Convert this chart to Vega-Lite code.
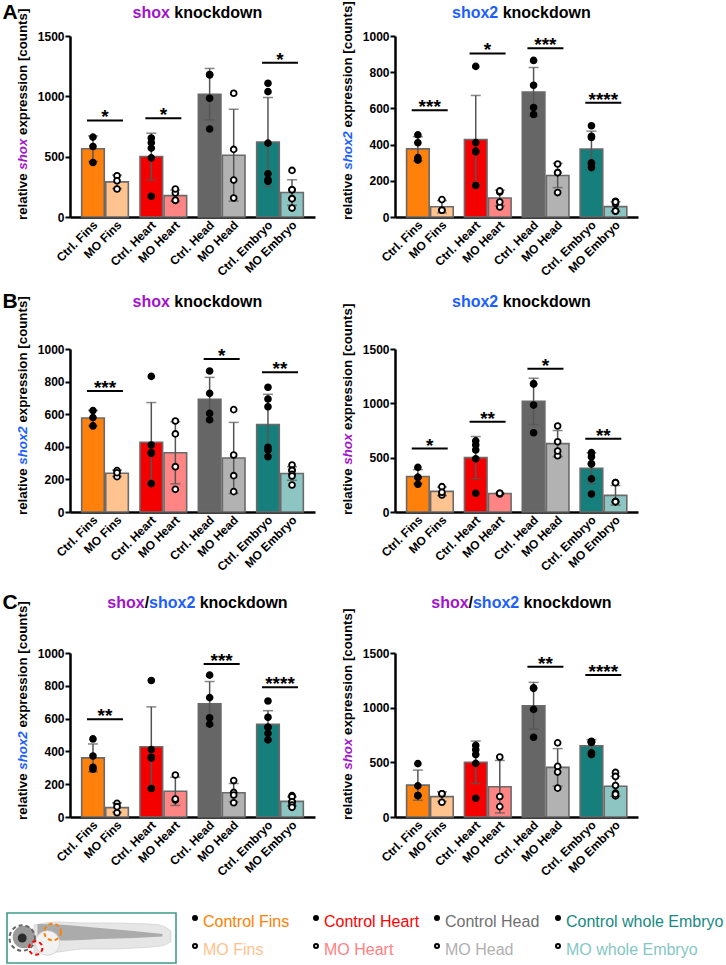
{
"$schema": "https://vega.github.io/schema/vega-lite/v6.json",
"padding": {"left": 2, "top": 1, "right": 0, "bottom": 0},
"config": {
  "view": {"stroke": null},
  "font": "Liberation Sans",
  "axis": {"labelFont": "Liberation Sans", "labelFontWeight": "bold", "labelFontSize": 12, "labelColor": "black", "domainColor": "black", "domainWidth": 2.5, "tickColor": "black", "tickWidth": 2, "tickSize": 5, "grid": false, "labelPadding": 1, "labelOverlap": false, "labelBound": false},
  "axisY": {"labelOverlap": false},
  "axisQuantitative": {"labelOverlap": false},
  "axisX": {"labels": false, "ticks": false, "title": null}
},
"resolve": {"scale": {"color": "independent"}},
"datasets": {
  "labels": [{"g":"Fins","c":"Ctrl","s":"Ctrl. Fins"},{"g":"Fins","c":"MO","s":"MO Fins"},{"g":"Heart","c":"Ctrl","s":"Ctrl. Heart"},{"g":"Heart","c":"MO","s":"MO Heart"},{"g":"Head","c":"Ctrl","s":"Ctrl. Head"},{"g":"Head","c":"MO","s":"MO Head"},{"g":"Embryo","c":"Ctrl","s":"Ctrl. Embryo"},{"g":"Embryo","c":"MO","s":"MO Embryo"}],
  "leg": [{"col":"Fins","row":"Ctrl","t":"Control Fins"},{"col":"Fins","row":"MO","t":"MO Fins"},{"col":"Heart","row":"Ctrl","t":"Control Heart"},{"col":"Heart","row":"MO","t":"MO Heart"},{"col":"Head","row":"Ctrl","t":"Control Head"},{"col":"Head","row":"MO","t":"MO Head"},{"col":"Embryo","row":"Ctrl","t":"Control whole Embryo"},{"col":"Embryo","row":"MO","t":"MO whole Embryo"}],
  "fold": [{"fx":16,"t":24,"b":80},{"fx":30,"t":18,"b":78},{"fx":45,"t":20,"b":72},{"fx":60,"t":20,"b":72},{"fx":75,"t":21,"b":70},{"fx":88,"t":23,"b":67},{"fx":94,"t":29,"b":63},{"fx":97,"t":36,"b":57}],
  "trunk": [{"fx":18,"t":22,"b":55},{"fx":35,"t":24,"b":55},{"fx":55,"t":30,"b":52},{"fx":75,"t":36,"b":50},{"fx":92,"t":42,"b":47}],
  "A1": [
    {"g":"Fins","c":"Ctrl","s":"Ctrl. Fins","v":662},{"g":"Fins","c":"Ctrl","s":"Ctrl. Fins","v":584},{"g":"Fins","c":"Ctrl","s":"Ctrl. Fins","v":452},
    {"g":"Fins","c":"MO","s":"MO Fins","v":342},{"g":"Fins","c":"MO","s":"MO Fins","v":300},{"g":"Fins","c":"MO","s":"MO Fins","v":232},
    {"g":"Heart","c":"Ctrl","s":"Ctrl. Heart","v":655},{"g":"Heart","c":"Ctrl","s":"Ctrl. Heart","v":571},{"g":"Heart","c":"Ctrl","s":"Ctrl. Heart","v":616},{"g":"Heart","c":"Ctrl","s":"Ctrl. Heart","v":490},{"g":"Heart","c":"Ctrl","s":"Ctrl. Heart","v":172},
    {"g":"Heart","c":"MO","s":"MO Heart","v":199},{"g":"Heart","c":"MO","s":"MO Heart","v":232},{"g":"Heart","c":"MO","s":"MO Heart","v":138},{"g":"Heart","c":"MO","s":"MO Heart","v":138},
    {"g":"Head","c":"Ctrl","s":"Ctrl. Head","v":1177},{"g":"Head","c":"Ctrl","s":"Ctrl. Head","v":1181},{"g":"Head","c":"Ctrl","s":"Ctrl. Head","v":984},{"g":"Head","c":"Ctrl","s":"Ctrl. Head","v":729},
    {"g":"Head","c":"MO","s":"MO Head","v":1026},{"g":"Head","c":"MO","s":"MO Head","v":560},{"g":"Head","c":"MO","s":"MO Head","v":306},{"g":"Head","c":"MO","s":"MO Head","v":157},
    {"g":"Embryo","c":"Ctrl","s":"Ctrl. Embryo","v":1108},{"g":"Embryo","c":"Ctrl","s":"Ctrl. Embryo","v":1039},{"g":"Embryo","c":"Ctrl","s":"Ctrl. Embryo","v":612},{"g":"Embryo","c":"Ctrl","s":"Ctrl. Embryo","v":358},{"g":"Embryo","c":"Ctrl","s":"Ctrl. Embryo","v":295},{"g":"Embryo","c":"Ctrl","s":"Ctrl. Embryo","v":309},
    {"g":"Embryo","c":"MO","s":"MO Embryo","v":386},{"g":"Embryo","c":"MO","s":"MO Embryo","v":226},{"g":"Embryo","c":"MO","s":"MO Embryo","v":226},{"g":"Embryo","c":"MO","s":"MO Embryo","v":152},{"g":"Embryo","c":"MO","s":"MO Embryo","v":152},{"g":"Embryo","c":"MO","s":"MO Embryo","v":74}
  ],
  "A1s": [{"g":"Fins","y":800,"t":"*"},{"g":"Heart","y":819,"t":"*"},{"g":"Embryo","y":1279,"t":"*"}],
  "A2": [
    {"g":"Fins","c":"Ctrl","s":"Ctrl. Fins","v":454},{"g":"Fins","c":"Ctrl","s":"Ctrl. Fins","v":410},{"g":"Fins","c":"Ctrl","s":"Ctrl. Fins","v":314},{"g":"Fins","c":"Ctrl","s":"Ctrl. Fins","v":328},
    {"g":"Fins","c":"MO","s":"MO Fins","v":96},{"g":"Fins","c":"MO","s":"MO Fins","v":37},{"g":"Fins","c":"MO","s":"MO Fins","v":37},
    {"g":"Heart","c":"Ctrl","s":"Ctrl. Heart","v":832},{"g":"Heart","c":"Ctrl","s":"Ctrl. Heart","v":411},{"g":"Heart","c":"Ctrl","s":"Ctrl. Heart","v":364},{"g":"Heart","c":"Ctrl","s":"Ctrl. Heart","v":360},{"g":"Heart","c":"Ctrl","s":"Ctrl. Heart","v":174},
    {"g":"Heart","c":"MO","s":"MO Heart","v":138},{"g":"Heart","c":"MO","s":"MO Heart","v":144},{"g":"Heart","c":"MO","s":"MO Heart","v":55},{"g":"Heart","c":"MO","s":"MO Heart","v":83},
    {"g":"Head","c":"Ctrl","s":"Ctrl. Head","v":865},{"g":"Head","c":"Ctrl","s":"Ctrl. Head","v":728},{"g":"Head","c":"Ctrl","s":"Ctrl. Head","v":605},{"g":"Head","c":"Ctrl","s":"Ctrl. Head","v":566},
    {"g":"Head","c":"MO","s":"MO Head","v":293},{"g":"Head","c":"MO","s":"MO Head","v":245},{"g":"Head","c":"MO","s":"MO Head","v":245},{"g":"Head","c":"MO","s":"MO Head","v":135},
    {"g":"Embryo","c":"Ctrl","s":"Ctrl. Embryo","v":504},{"g":"Embryo","c":"Ctrl","s":"Ctrl. Embryo","v":439},{"g":"Embryo","c":"Ctrl","s":"Ctrl. Embryo","v":446},{"g":"Embryo","c":"Ctrl","s":"Ctrl. Embryo","v":273},{"g":"Embryo","c":"Ctrl","s":"Ctrl. Embryo","v":299},{"g":"Embryo","c":"Ctrl","s":"Ctrl. Embryo","v":295},
    {"g":"Embryo","c":"MO","s":"MO Embryo","v":74},{"g":"Embryo","c":"MO","s":"MO Embryo","v":87},{"g":"Embryo","c":"MO","s":"MO Embryo","v":83},{"g":"Embryo","c":"MO","s":"MO Embryo","v":33},{"g":"Embryo","c":"MO","s":"MO Embryo","v":33},{"g":"Embryo","c":"MO","s":"MO Embryo","v":33}
  ],
  "A2s": [{"g":"Fins","y":590,"t":"***"},{"g":"Heart","y":904,"t":"*"},{"g":"Head","y":932,"t":"***"},{"g":"Embryo","y":631,"t":"****"}],
  "B1": [
    {"g":"Fins","c":"Ctrl","s":"Ctrl. Fins","v":622},{"g":"Fins","c":"Ctrl","s":"Ctrl. Fins","v":579},{"g":"Fins","c":"Ctrl","s":"Ctrl. Fins","v":528},
    {"g":"Fins","c":"MO","s":"MO Fins","v":217},{"g":"Fins","c":"MO","s":"MO Fins","v":254},{"g":"Fins","c":"MO","s":"MO Fins","v":241},
    {"g":"Heart","c":"Ctrl","s":"Ctrl. Heart","v":832},{"g":"Heart","c":"Ctrl","s":"Ctrl. Heart","v":411},{"g":"Heart","c":"Ctrl","s":"Ctrl. Heart","v":364},{"g":"Heart","c":"Ctrl","s":"Ctrl. Heart","v":360},{"g":"Heart","c":"Ctrl","s":"Ctrl. Heart","v":174},
    {"g":"Heart","c":"MO","s":"MO Heart","v":558},{"g":"Heart","c":"MO","s":"MO Heart","v":479},{"g":"Heart","c":"MO","s":"MO Heart","v":278},{"g":"Heart","c":"MO","s":"MO Heart","v":139},
    {"g":"Head","c":"Ctrl","s":"Ctrl. Head","v":865},{"g":"Head","c":"Ctrl","s":"Ctrl. Head","v":728},{"g":"Head","c":"Ctrl","s":"Ctrl. Head","v":605},{"g":"Head","c":"Ctrl","s":"Ctrl. Head","v":566},
    {"g":"Head","c":"MO","s":"MO Head","v":628},{"g":"Head","c":"MO","s":"MO Head","v":350},{"g":"Head","c":"MO","s":"MO Head","v":223},{"g":"Head","c":"MO","s":"MO Head","v":125},
    {"g":"Embryo","c":"Ctrl","s":"Ctrl. Embryo","v":765},{"g":"Embryo","c":"Ctrl","s":"Ctrl. Embryo","v":693},{"g":"Embryo","c":"Ctrl","s":"Ctrl. Embryo","v":646},{"g":"Embryo","c":"Ctrl","s":"Ctrl. Embryo","v":397},{"g":"Embryo","c":"Ctrl","s":"Ctrl. Embryo","v":380},{"g":"Embryo","c":"Ctrl","s":"Ctrl. Embryo","v":339},
    {"g":"Embryo","c":"MO","s":"MO Embryo","v":288},{"g":"Embryo","c":"MO","s":"MO Embryo","v":258},{"g":"Embryo","c":"MO","s":"MO Embryo","v":254},{"g":"Embryo","c":"MO","s":"MO Embryo","v":231},{"g":"Embryo","c":"MO","s":"MO Embryo","v":221},{"g":"Embryo","c":"MO","s":"MO Embryo","v":166}
  ],
  "B1s": [{"g":"Fins","y":742,"t":"***"},{"g":"Head","y":939,"t":"*"},{"g":"Embryo","y":857,"t":"**"}],
  "B2": [
    {"g":"Fins","c":"Ctrl","s":"Ctrl. Fins","v":411},{"g":"Fins","c":"Ctrl","s":"Ctrl. Fins","v":319},{"g":"Fins","c":"Ctrl","s":"Ctrl. Fins","v":319},{"g":"Fins","c":"Ctrl","s":"Ctrl. Fins","v":255},
    {"g":"Fins","c":"MO","s":"MO Fins","v":233},{"g":"Fins","c":"MO","s":"MO Fins","v":156},{"g":"Fins","c":"MO","s":"MO Fins","v":181},
    {"g":"Heart","c":"Ctrl","s":"Ctrl. Heart","v":655},{"g":"Heart","c":"Ctrl","s":"Ctrl. Heart","v":571},{"g":"Heart","c":"Ctrl","s":"Ctrl. Heart","v":616},{"g":"Heart","c":"Ctrl","s":"Ctrl. Heart","v":490},{"g":"Heart","c":"Ctrl","s":"Ctrl. Heart","v":172},
    {"g":"Heart","c":"MO","s":"MO Heart","v":166},{"g":"Heart","c":"MO","s":"MO Heart","v":172},{"g":"Heart","c":"MO","s":"MO Heart","v":172},
    {"g":"Head","c":"Ctrl","s":"Ctrl. Head","v":1177},{"g":"Head","c":"Ctrl","s":"Ctrl. Head","v":1181},{"g":"Head","c":"Ctrl","s":"Ctrl. Head","v":984},{"g":"Head","c":"Ctrl","s":"Ctrl. Head","v":729},
    {"g":"Head","c":"MO","s":"MO Head","v":791},{"g":"Head","c":"MO","s":"MO Head","v":647},{"g":"Head","c":"MO","s":"MO Head","v":518},{"g":"Head","c":"MO","s":"MO Head","v":561},
    {"g":"Embryo","c":"Ctrl","s":"Ctrl. Embryo","v":509},{"g":"Embryo","c":"Ctrl","s":"Ctrl. Embryo","v":546},{"g":"Embryo","c":"Ctrl","s":"Ctrl. Embryo","v":442},{"g":"Embryo","c":"Ctrl","s":"Ctrl. Embryo","v":166},{"g":"Embryo","c":"Ctrl","s":"Ctrl. Embryo","v":445},{"g":"Embryo","c":"Ctrl","s":"Ctrl. Embryo","v":305},
    {"g":"Embryo","c":"MO","s":"MO Embryo","v":270},{"g":"Embryo","c":"MO","s":"MO Embryo","v":270},{"g":"Embryo","c":"MO","s":"MO Embryo","v":95},{"g":"Embryo","c":"MO","s":"MO Embryo","v":95},{"g":"Embryo","c":"MO","s":"MO Embryo","v":95},{"g":"Embryo","c":"MO","s":"MO Embryo","v":95}
  ],
  "B2s": [{"g":"Fins","y":584,"t":"*"},{"g":"Heart","y":831,"t":"**"},{"g":"Head","y":1319,"t":"*"},{"g":"Embryo","y":675,"t":"**"}],
  "C1": [
    {"g":"Fins","c":"Ctrl","s":"Ctrl. Fins","v":476},{"g":"Fins","c":"Ctrl","s":"Ctrl. Fins","v":372},{"g":"Fins","c":"Ctrl","s":"Ctrl. Fins","v":291},{"g":"Fins","c":"Ctrl","s":"Ctrl. Fins","v":303},
    {"g":"Fins","c":"MO","s":"MO Fins","v":83},{"g":"Fins","c":"MO","s":"MO Fins","v":63},{"g":"Fins","c":"MO","s":"MO Fins","v":26},
    {"g":"Heart","c":"Ctrl","s":"Ctrl. Heart","v":832},{"g":"Heart","c":"Ctrl","s":"Ctrl. Heart","v":411},{"g":"Heart","c":"Ctrl","s":"Ctrl. Heart","v":364},{"g":"Heart","c":"Ctrl","s":"Ctrl. Heart","v":360},{"g":"Heart","c":"Ctrl","s":"Ctrl. Heart","v":174},
    {"g":"Heart","c":"MO","s":"MO Heart","v":256},{"g":"Heart","c":"MO","s":"MO Heart","v":104},{"g":"Heart","c":"MO","s":"MO Heart","v":110},
    {"g":"Head","c":"Ctrl","s":"Ctrl. Head","v":865},{"g":"Head","c":"Ctrl","s":"Ctrl. Head","v":728},{"g":"Head","c":"Ctrl","s":"Ctrl. Head","v":605},{"g":"Head","c":"Ctrl","s":"Ctrl. Head","v":566},
    {"g":"Head","c":"MO","s":"MO Head","v":222},{"g":"Head","c":"MO","s":"MO Head","v":150},{"g":"Head","c":"MO","s":"MO Head","v":134},{"g":"Head","c":"MO","s":"MO Head","v":87},
    {"g":"Embryo","c":"Ctrl","s":"Ctrl. Embryo","v":707},{"g":"Embryo","c":"Ctrl","s":"Ctrl. Embryo","v":608},{"g":"Embryo","c":"Ctrl","s":"Ctrl. Embryo","v":547},{"g":"Embryo","c":"Ctrl","s":"Ctrl. Embryo","v":547},{"g":"Embryo","c":"Ctrl","s":"Ctrl. Embryo","v":510},{"g":"Embryo","c":"Ctrl","s":"Ctrl. Embryo","v":470},
    {"g":"Embryo","c":"MO","s":"MO Embryo","v":130},{"g":"Embryo","c":"MO","s":"MO Embryo","v":124},{"g":"Embryo","c":"MO","s":"MO Embryo","v":93},{"g":"Embryo","c":"MO","s":"MO Embryo","v":93},{"g":"Embryo","c":"MO","s":"MO Embryo","v":73},{"g":"Embryo","c":"MO","s":"MO Embryo","v":59}
  ],
  "C1s": [{"g":"Fins","y":596,"t":"**"},{"g":"Head","y":933,"t":"***"},{"g":"Embryo","y":791,"t":"****"}],
  "C2": [
    {"g":"Fins","c":"Ctrl","s":"Ctrl. Fins","v":488},{"g":"Fins","c":"Ctrl","s":"Ctrl. Fins","v":285},{"g":"Fins","c":"Ctrl","s":"Ctrl. Fins","v":196},{"g":"Fins","c":"Ctrl","s":"Ctrl. Fins","v":196},
    {"g":"Fins","c":"MO","s":"MO Fins","v":212},{"g":"Fins","c":"MO","s":"MO Fins","v":212},{"g":"Fins","c":"MO","s":"MO Fins","v":135},
    {"g":"Heart","c":"Ctrl","s":"Ctrl. Heart","v":655},{"g":"Heart","c":"Ctrl","s":"Ctrl. Heart","v":571},{"g":"Heart","c":"Ctrl","s":"Ctrl. Heart","v":616},{"g":"Heart","c":"Ctrl","s":"Ctrl. Heart","v":490},{"g":"Heart","c":"Ctrl","s":"Ctrl. Heart","v":172},
    {"g":"Heart","c":"MO","s":"MO Heart","v":549},{"g":"Heart","c":"MO","s":"MO Heart","v":187},{"g":"Heart","c":"MO","s":"MO Heart","v":95},
    {"g":"Head","c":"Ctrl","s":"Ctrl. Head","v":1177},{"g":"Head","c":"Ctrl","s":"Ctrl. Head","v":1181},{"g":"Head","c":"Ctrl","s":"Ctrl. Head","v":984},{"g":"Head","c":"Ctrl","s":"Ctrl. Head","v":729},
    {"g":"Head","c":"MO","s":"MO Head","v":678},{"g":"Head","c":"MO","s":"MO Head","v":463},{"g":"Head","c":"MO","s":"MO Head","v":411},{"g":"Head","c":"MO","s":"MO Head","v":264},
    {"g":"Embryo","c":"Ctrl","s":"Ctrl. Embryo","v":684},{"g":"Embryo","c":"Ctrl","s":"Ctrl. Embryo","v":684},{"g":"Embryo","c":"Ctrl","s":"Ctrl. Embryo","v":687},{"g":"Embryo","c":"Ctrl","s":"Ctrl. Embryo","v":693},{"g":"Embryo","c":"Ctrl","s":"Ctrl. Embryo","v":571},{"g":"Embryo","c":"Ctrl","s":"Ctrl. Embryo","v":586},
    {"g":"Embryo","c":"MO","s":"MO Embryo","v":408},{"g":"Embryo","c":"MO","s":"MO Embryo","v":371},{"g":"Embryo","c":"MO","s":"MO Embryo","v":288},{"g":"Embryo","c":"MO","s":"MO Embryo","v":193},{"g":"Embryo","c":"MO","s":"MO Embryo","v":218},{"g":"Embryo","c":"MO","s":"MO Embryo","v":209}
  ],
  "C2s": [{"g":"Head","y":1374,"t":"**"},{"g":"Embryo","y":1298,"t":"****"}]
},
"columns": 2,
"align": "each",
"bounds": "flush",
"spacing": {"row": 0, "column": 80},
"concat": [
 {"width": 245, "height": 181, "data": {"name": "A1"}, "layer": [
  {"mark": {"type": "bar", "stroke": "#6a6a6a", "strokeWidth": 1.6}, "encoding": {
    "x": {"field": "g", "type": "nominal", "scale": {"domain": ["Fins","Heart","Head","Embryo"], "paddingInner": 0.2, "paddingOuter": 0.2}, "axis": {"labels": false, "ticks": false, "title": null}},
    "xOffset": {"field": "c", "type": "nominal", "scale": {"domain": ["Ctrl","MO"], "paddingInner": 0.06}},
    "y": {"aggregate": "mean", "field": "v", "type": "quantitative", "scale": {"domain": [0,1500], "nice": false}, "axis": {"values": [0,500,1000,1500], "format": "d", "labelOverlap": false, "title": null}},
    "color": {"field": "s", "type": "nominal", "scale": {"domain": ["Ctrl. Fins","MO Fins","Ctrl. Heart","MO Heart","Ctrl. Head","MO Head","Ctrl. Embryo","MO Embryo"], "range": ["#FF800A","#FFC38F","#F50000","#FF8585","#666666","#B2B2B2","#177F7B","#8CC5C2"]}, "legend": null}}},
  {"mark": {"type": "errorbar", "extent": "stdev", "color": "#555555", "thickness": 1.5, "ticks": {"size": 10, "thickness": 1.5, "color": "#555555"}}, "encoding": {"x": {"field": "g", "type": "nominal"}, "xOffset": {"field": "c", "type": "nominal"}, "y": {"field": "v", "type": "quantitative", "title": null, "axis": {"values": [0,500,1000,1500], "format": "d", "labelOverlap": false, "title": null}}}},
  {"mark": {"type": "point", "filled": true, "size": 34, "stroke": "black", "strokeWidth": 1.8, "opacity": 1}, "encoding": {"x": {"field": "g", "type": "nominal"}, "xOffset": {"field": "c", "type": "nominal"}, "y": {"field": "v", "type": "quantitative", "axis": {"values": [0,500,1000,1500], "format": "d", "labelOverlap": false, "title": null}}, "fill": {"field": "c", "type": "nominal", "scale": {"domain": ["Ctrl","MO"], "range": ["black","white"]}, "legend": null}}},
  {"data": {"name": "labels"}, "mark": {"type": "text", "angle": 315, "align": "right", "baseline": "middle", "dx": -2.5, "dy": 6, "fontSize": 12, "fontWeight": "bold", "color": "black"}, "encoding": {"x": {"field": "g", "type": "nominal"}, "xOffset": {"field": "c", "type": "nominal"}, "y": {"datum": 0}, "text": {"field": "s"}}},
  {"data": {"name": "A1s"}, "mark": {"type": "tick", "orient": "horizontal", "size": 36, "thickness": 2, "color": "black", "opacity": 1}, "encoding": {"x": {"field": "g", "type": "nominal"}, "y": {"field": "y", "type": "quantitative"}}},
  {"data": {"name": "A1s"}, "mark": {"type": "text", "baseline": "alphabetic", "dy": 3, "fontSize": 19, "fontWeight": "bold", "color": "black"}, "encoding": {"x": {"field": "g", "type": "nominal"}, "y": {"field": "y", "type": "quantitative"}, "text": {"field": "t"}}},
  {"data": {"values": [{}]}, "mark": {"type": "text", "text": "shox", "color": "#A214CC", "fontSize": 16, "fontWeight": "bold", "align": "right", "baseline": "middle", "dx": 6.6}, "encoding": {"x": {"datum": "Heart"}, "y": {"datum": 1691}}},
  {"data": {"values": [{}]}, "mark": {"type": "text", "text": "knockdown", "color": "black", "fontSize": 16, "fontWeight": "bold", "align": "left", "baseline": "middle", "dx": 11}, "encoding": {"x": {"datum": "Heart"}, "y": {"datum": 1691}}},
  {"data": {"values": [{}]}, "mark": {"type": "text", "text": "A", "color": "black", "fontSize": 21, "fontWeight": "bold", "align": "center", "baseline": "middle", "dx": -95}, "encoding": {"x": {"datum": "Fins"}, "y": {"datum": 1691}}},
  {"data": {"values": [{}]}, "mark": {"type": "text", "text": "relative", "color": "black", "fontSize": 13.3, "fontWeight": "bold", "angle": 270, "align": "left", "baseline": "middle", "dx": -3, "dy": -82}, "encoding": {"x": {"datum": "Fins"}, "y": {"datum": 0}}},
  {"data": {"values": [{}]}, "mark": {"type": "text", "text": "shox", "color": "#A214CC", "fontSize": 13.3, "fontWeight": "bold", "fontStyle": "italic", "angle": 270, "align": "left", "baseline": "middle", "dx": 47.3, "dy": -82}, "encoding": {"x": {"datum": "Fins"}, "y": {"datum": 0}}},
  {"data": {"values": [{}]}, "mark": {"type": "text", "text": "expression [counts]", "color": "black", "fontSize": 13.3, "fontWeight": "bold", "angle": 270, "align": "left", "baseline": "middle", "dx": 82, "dy": -82}, "encoding": {"x": {"datum": "Fins"}, "y": {"datum": 0}}}
 ]},
 {"width": 243, "height": 181, "data": {"name": "A2"}, "layer": [
  {"mark": {"type": "bar", "stroke": "#6a6a6a", "strokeWidth": 1.6}, "encoding": {
    "x": {"field": "g", "type": "nominal", "scale": {"domain": ["Fins","Heart","Head","Embryo"], "paddingInner": 0.2, "paddingOuter": 0.2}, "axis": {"labels": false, "ticks": false, "title": null}},
    "xOffset": {"field": "c", "type": "nominal", "scale": {"domain": ["Ctrl","MO"], "paddingInner": 0.06}},
    "y": {"aggregate": "mean", "field": "v", "type": "quantitative", "scale": {"domain": [0,1000], "nice": false}, "axis": {"values": [0,200,400,600,800,1000], "tickCount": 6, "format": "d", "labelOverlap": false, "title": null}},
    "color": {"field": "s", "type": "nominal", "scale": {"domain": ["Ctrl. Fins","MO Fins","Ctrl. Heart","MO Heart","Ctrl. Head","MO Head","Ctrl. Embryo","MO Embryo"], "range": ["#FF800A","#FFC38F","#F50000","#FF8585","#666666","#B2B2B2","#177F7B","#8CC5C2"]}, "legend": null}}},
  {"mark": {"type": "errorbar", "extent": "stdev", "color": "#555555", "thickness": 1.5, "ticks": {"size": 10, "thickness": 1.5, "color": "#555555"}}, "encoding": {"x": {"field": "g", "type": "nominal"}, "xOffset": {"field": "c", "type": "nominal"}, "y": {"field": "v", "type": "quantitative", "axis": {"values": [0,200,400,600,800,1000], "tickCount": 6, "format": "d", "labelOverlap": false, "title": null}}}},
  {"mark": {"type": "point", "filled": true, "size": 34, "stroke": "black", "strokeWidth": 1.8, "opacity": 1}, "encoding": {"x": {"field": "g", "type": "nominal"}, "xOffset": {"field": "c", "type": "nominal"}, "y": {"field": "v", "type": "quantitative", "axis": {"values": [0,200,400,600,800,1000], "tickCount": 6, "format": "d", "labelOverlap": false, "title": null}}, "fill": {"field": "c", "type": "nominal", "scale": {"domain": ["Ctrl","MO"], "range": ["black","white"]}, "legend": null}}},
  {"data": {"name": "labels"}, "mark": {"type": "text", "angle": 315, "align": "right", "baseline": "middle", "dx": -2.5, "dy": 6, "fontSize": 12, "fontWeight": "bold", "color": "black"}, "encoding": {"x": {"field": "g", "type": "nominal"}, "xOffset": {"field": "c", "type": "nominal"}, "y": {"datum": 0}, "text": {"field": "s"}}},
  {"data": {"name": "A2s"}, "mark": {"type": "tick", "orient": "horizontal", "size": 36, "thickness": 2, "color": "black", "opacity": 1}, "encoding": {"x": {"field": "g", "type": "nominal"}, "y": {"field": "y", "type": "quantitative"}}},
  {"data": {"name": "A2s"}, "mark": {"type": "text", "baseline": "alphabetic", "dy": 3, "fontSize": 19, "fontWeight": "bold", "color": "black"}, "encoding": {"x": {"field": "g", "type": "nominal"}, "y": {"field": "y", "type": "quantitative"}, "text": {"field": "t"}}},
  {"data": {"values": [{}]}, "mark": {"type": "text", "text": "shox2", "color": "#1C5EFF", "fontSize": 16, "fontWeight": "bold", "align": "right", "baseline": "middle", "dx": 10.7}, "encoding": {"x": {"datum": "Heart"}, "y": {"datum": 1127}}},
  {"data": {"values": [{}]}, "mark": {"type": "text", "text": "knockdown", "color": "black", "fontSize": 16, "fontWeight": "bold", "align": "left", "baseline": "middle", "dx": 15.1}, "encoding": {"x": {"datum": "Heart"}, "y": {"datum": 1127}}},
  {"data": {"values": [{}]}, "mark": {"type": "text", "text": "relative", "color": "black", "fontSize": 13.3, "fontWeight": "bold", "angle": 270, "align": "left", "baseline": "middle", "dx": -3, "dy": -82}, "encoding": {"x": {"datum": "Fins"}, "y": {"datum": 0}}},
  {"data": {"values": [{}]}, "mark": {"type": "text", "text": "shox2", "color": "#1C5EFF", "fontSize": 13.3, "fontWeight": "bold", "fontStyle": "italic", "angle": 270, "align": "left", "baseline": "middle", "dx": 47.3, "dy": -82}, "encoding": {"x": {"datum": "Fins"}, "y": {"datum": 0}}},
  {"data": {"values": [{}]}, "mark": {"type": "text", "text": "expression [counts]", "color": "black", "fontSize": 13.3, "fontWeight": "bold", "angle": 270, "align": "left", "baseline": "middle", "dx": 89.4, "dy": -82}, "encoding": {"x": {"datum": "Fins"}, "y": {"datum": 0}}}
 ]},
 {"width": 1, "height": 132, "data": {"values": []}, "mark": "point", "encoding": {}},
 {"width": 1, "height": 132, "data": {"values": []}, "mark": "point", "encoding": {}},
 {"width": 245, "height": 163, "data": {"name": "B1"}, "layer": [
  {"mark": {"type": "bar", "stroke": "#6a6a6a", "strokeWidth": 1.6}, "encoding": {
    "x": {"field": "g", "type": "nominal", "scale": {"domain": ["Fins","Heart","Head","Embryo"], "paddingInner": 0.2, "paddingOuter": 0.2}, "axis": {"labels": false, "ticks": false, "title": null}},
    "xOffset": {"field": "c", "type": "nominal", "scale": {"domain": ["Ctrl","MO"], "paddingInner": 0.06}},
    "y": {"aggregate": "mean", "field": "v", "type": "quantitative", "scale": {"domain": [0,1000], "nice": false}, "axis": {"values": [0,200,400,600,800,1000], "tickCount": 6, "format": "d", "labelOverlap": false, "title": null}},
    "color": {"field": "s", "type": "nominal", "scale": {"domain": ["Ctrl. Fins","MO Fins","Ctrl. Heart","MO Heart","Ctrl. Head","MO Head","Ctrl. Embryo","MO Embryo"], "range": ["#FF800A","#FFC38F","#F50000","#FF8585","#666666","#B2B2B2","#177F7B","#8CC5C2"]}, "legend": null}}},
  {"mark": {"type": "errorbar", "extent": "stdev", "color": "#555555", "thickness": 1.5, "ticks": {"size": 10, "thickness": 1.5, "color": "#555555"}}, "encoding": {"x": {"field": "g", "type": "nominal"}, "xOffset": {"field": "c", "type": "nominal"}, "y": {"field": "v", "type": "quantitative", "axis": {"values": [0,200,400,600,800,1000], "tickCount": 6, "format": "d", "labelOverlap": false, "title": null}}}},
  {"mark": {"type": "point", "filled": true, "size": 34, "stroke": "black", "strokeWidth": 1.8, "opacity": 1}, "encoding": {"x": {"field": "g", "type": "nominal"}, "xOffset": {"field": "c", "type": "nominal"}, "y": {"field": "v", "type": "quantitative", "axis": {"values": [0,200,400,600,800,1000], "tickCount": 6, "format": "d", "labelOverlap": false, "title": null}}, "fill": {"field": "c", "type": "nominal", "scale": {"domain": ["Ctrl","MO"], "range": ["black","white"]}, "legend": null}}},
  {"data": {"name": "labels"}, "mark": {"type": "text", "angle": 315, "align": "right", "baseline": "middle", "dx": -2.5, "dy": 6, "fontSize": 12, "fontWeight": "bold", "color": "black"}, "encoding": {"x": {"field": "g", "type": "nominal"}, "xOffset": {"field": "c", "type": "nominal"}, "y": {"datum": 0}, "text": {"field": "s"}}},
  {"data": {"name": "B1s"}, "mark": {"type": "tick", "orient": "horizontal", "size": 36, "thickness": 2, "color": "black", "opacity": 1}, "encoding": {"x": {"field": "g", "type": "nominal"}, "y": {"field": "y", "type": "quantitative"}}},
  {"data": {"name": "B1s"}, "mark": {"type": "text", "baseline": "alphabetic", "dy": 3, "fontSize": 19, "fontWeight": "bold", "color": "black"}, "encoding": {"x": {"field": "g", "type": "nominal"}, "y": {"field": "y", "type": "quantitative"}, "text": {"field": "t"}}},
  {"data": {"values": [{}]}, "mark": {"type": "text", "text": "shox", "color": "#A214CC", "fontSize": 16, "fontWeight": "bold", "align": "right", "baseline": "middle", "dx": 6.6}, "encoding": {"x": {"datum": "Heart"}, "y": {"datum": 1290}}},
  {"data": {"values": [{}]}, "mark": {"type": "text", "text": "knockdown", "color": "black", "fontSize": 16, "fontWeight": "bold", "align": "left", "baseline": "middle", "dx": 11}, "encoding": {"x": {"datum": "Heart"}, "y": {"datum": 1290}}},
  {"data": {"values": [{}]}, "mark": {"type": "text", "text": "B", "color": "black", "fontSize": 21, "fontWeight": "bold", "align": "center", "baseline": "middle", "dx": -95}, "encoding": {"x": {"datum": "Fins"}, "y": {"datum": 1290}}},
  {"data": {"values": [{}]}, "mark": {"type": "text", "text": "relative", "color": "black", "fontSize": 13.3, "fontWeight": "bold", "angle": 270, "align": "left", "baseline": "middle", "dx": -3, "dy": -82}, "encoding": {"x": {"datum": "Fins"}, "y": {"datum": 0}}},
  {"data": {"values": [{}]}, "mark": {"type": "text", "text": "shox2", "color": "#1C5EFF", "fontSize": 13.3, "fontWeight": "bold", "fontStyle": "italic", "angle": 270, "align": "left", "baseline": "middle", "dx": 47.3, "dy": -82}, "encoding": {"x": {"datum": "Fins"}, "y": {"datum": 0}}},
  {"data": {"values": [{}]}, "mark": {"type": "text", "text": "expression [counts]", "color": "black", "fontSize": 13.3, "fontWeight": "bold", "angle": 270, "align": "left", "baseline": "middle", "dx": 89.4, "dy": -82}, "encoding": {"x": {"datum": "Fins"}, "y": {"datum": 0}}}
 ]},
 {"width": 243, "height": 163, "data": {"name": "B2"}, "layer": [
  {"mark": {"type": "bar", "stroke": "#6a6a6a", "strokeWidth": 1.6}, "encoding": {
    "x": {"field": "g", "type": "nominal", "scale": {"domain": ["Fins","Heart","Head","Embryo"], "paddingInner": 0.2, "paddingOuter": 0.2}, "axis": {"labels": false, "ticks": false, "title": null}},
    "xOffset": {"field": "c", "type": "nominal", "scale": {"domain": ["Ctrl","MO"], "paddingInner": 0.06}},
    "y": {"aggregate": "mean", "field": "v", "type": "quantitative", "scale": {"domain": [0,1500], "nice": false}, "axis": {"values": [0,500,1000,1500], "format": "d", "labelOverlap": false, "title": null}},
    "color": {"field": "s", "type": "nominal", "scale": {"domain": ["Ctrl. Fins","MO Fins","Ctrl. Heart","MO Heart","Ctrl. Head","MO Head","Ctrl. Embryo","MO Embryo"], "range": ["#FF800A","#FFC38F","#F50000","#FF8585","#666666","#B2B2B2","#177F7B","#8CC5C2"]}, "legend": null}}},
  {"mark": {"type": "errorbar", "extent": "stdev", "color": "#555555", "thickness": 1.5, "ticks": {"size": 10, "thickness": 1.5, "color": "#555555"}}, "encoding": {"x": {"field": "g", "type": "nominal"}, "xOffset": {"field": "c", "type": "nominal"}, "y": {"field": "v", "type": "quantitative", "axis": {"values": [0,500,1000,1500], "format": "d", "labelOverlap": false, "title": null}}}},
  {"mark": {"type": "point", "filled": true, "size": 34, "stroke": "black", "strokeWidth": 1.8, "opacity": 1}, "encoding": {"x": {"field": "g", "type": "nominal"}, "xOffset": {"field": "c", "type": "nominal"}, "y": {"field": "v", "type": "quantitative", "axis": {"values": [0,500,1000,1500], "format": "d", "labelOverlap": false, "title": null}}, "fill": {"field": "c", "type": "nominal", "scale": {"domain": ["Ctrl","MO"], "range": ["black","white"]}, "legend": null}}},
  {"data": {"name": "labels"}, "mark": {"type": "text", "angle": 315, "align": "right", "baseline": "middle", "dx": -2.5, "dy": 6, "fontSize": 12, "fontWeight": "bold", "color": "black"}, "encoding": {"x": {"field": "g", "type": "nominal"}, "xOffset": {"field": "c", "type": "nominal"}, "y": {"datum": 0}, "text": {"field": "s"}}},
  {"data": {"name": "B2s"}, "mark": {"type": "tick", "orient": "horizontal", "size": 36, "thickness": 2, "color": "black", "opacity": 1}, "encoding": {"x": {"field": "g", "type": "nominal"}, "y": {"field": "y", "type": "quantitative"}}},
  {"data": {"name": "B2s"}, "mark": {"type": "text", "baseline": "alphabetic", "dy": 3, "fontSize": 19, "fontWeight": "bold", "color": "black"}, "encoding": {"x": {"field": "g", "type": "nominal"}, "y": {"field": "y", "type": "quantitative"}, "text": {"field": "t"}}},
  {"data": {"values": [{}]}, "mark": {"type": "text", "text": "shox2", "color": "#1C5EFF", "fontSize": 16, "fontWeight": "bold", "align": "right", "baseline": "middle", "dx": 10.7}, "encoding": {"x": {"datum": "Heart"}, "y": {"datum": 1935}}},
  {"data": {"values": [{}]}, "mark": {"type": "text", "text": "knockdown", "color": "black", "fontSize": 16, "fontWeight": "bold", "align": "left", "baseline": "middle", "dx": 15.1}, "encoding": {"x": {"datum": "Heart"}, "y": {"datum": 1935}}},
  {"data": {"values": [{}]}, "mark": {"type": "text", "text": "relative", "color": "black", "fontSize": 13.3, "fontWeight": "bold", "angle": 270, "align": "left", "baseline": "middle", "dx": -3, "dy": -82}, "encoding": {"x": {"datum": "Fins"}, "y": {"datum": 0}}},
  {"data": {"values": [{}]}, "mark": {"type": "text", "text": "shox", "color": "#A214CC", "fontSize": 13.3, "fontWeight": "bold", "fontStyle": "italic", "angle": 270, "align": "left", "baseline": "middle", "dx": 47.3, "dy": -82}, "encoding": {"x": {"datum": "Fins"}, "y": {"datum": 0}}},
  {"data": {"values": [{}]}, "mark": {"type": "text", "text": "expression [counts]", "color": "black", "fontSize": 13.3, "fontWeight": "bold", "angle": 270, "align": "left", "baseline": "middle", "dx": 82, "dy": -82}, "encoding": {"x": {"datum": "Fins"}, "y": {"datum": 0}}}
 ]},
 {"width": 1, "height": 141, "data": {"values": []}, "mark": "point", "encoding": {}},
 {"width": 1, "height": 141, "data": {"values": []}, "mark": "point", "encoding": {}},
 {"width": 245, "height": 164, "data": {"name": "C1"}, "layer": [
  {"mark": {"type": "bar", "stroke": "#6a6a6a", "strokeWidth": 1.6}, "encoding": {
    "x": {"field": "g", "type": "nominal", "scale": {"domain": ["Fins","Heart","Head","Embryo"], "paddingInner": 0.2, "paddingOuter": 0.2}, "axis": {"labels": false, "ticks": false, "title": null}},
    "xOffset": {"field": "c", "type": "nominal", "scale": {"domain": ["Ctrl","MO"], "paddingInner": 0.06}},
    "y": {"aggregate": "mean", "field": "v", "type": "quantitative", "scale": {"domain": [0,1000], "nice": false}, "axis": {"values": [0,200,400,600,800,1000], "tickCount": 6, "format": "d", "labelOverlap": false, "title": null}},
    "color": {"field": "s", "type": "nominal", "scale": {"domain": ["Ctrl. Fins","MO Fins","Ctrl. Heart","MO Heart","Ctrl. Head","MO Head","Ctrl. Embryo","MO Embryo"], "range": ["#FF800A","#FFC38F","#F50000","#FF8585","#666666","#B2B2B2","#177F7B","#8CC5C2"]}, "legend": null}}},
  {"mark": {"type": "errorbar", "extent": "stdev", "color": "#555555", "thickness": 1.5, "ticks": {"size": 10, "thickness": 1.5, "color": "#555555"}}, "encoding": {"x": {"field": "g", "type": "nominal"}, "xOffset": {"field": "c", "type": "nominal"}, "y": {"field": "v", "type": "quantitative", "axis": {"values": [0,200,400,600,800,1000], "tickCount": 6, "format": "d", "labelOverlap": false, "title": null}}}},
  {"mark": {"type": "point", "filled": true, "size": 34, "stroke": "black", "strokeWidth": 1.8, "opacity": 1}, "encoding": {"x": {"field": "g", "type": "nominal"}, "xOffset": {"field": "c", "type": "nominal"}, "y": {"field": "v", "type": "quantitative", "axis": {"values": [0,200,400,600,800,1000], "tickCount": 6, "format": "d", "labelOverlap": false, "title": null}}, "fill": {"field": "c", "type": "nominal", "scale": {"domain": ["Ctrl","MO"], "range": ["black","white"]}, "legend": null}}},
  {"data": {"name": "labels"}, "mark": {"type": "text", "angle": 315, "align": "right", "baseline": "middle", "dx": -2.5, "dy": 6, "fontSize": 12, "fontWeight": "bold", "color": "black"}, "encoding": {"x": {"field": "g", "type": "nominal"}, "xOffset": {"field": "c", "type": "nominal"}, "y": {"datum": 0}, "text": {"field": "s"}}},
  {"data": {"name": "C1s"}, "mark": {"type": "tick", "orient": "horizontal", "size": 36, "thickness": 2, "color": "black", "opacity": 1}, "encoding": {"x": {"field": "g", "type": "nominal"}, "y": {"field": "y", "type": "quantitative"}}},
  {"data": {"name": "C1s"}, "mark": {"type": "text", "baseline": "alphabetic", "dy": 3, "fontSize": 19, "fontWeight": "bold", "color": "black"}, "encoding": {"x": {"field": "g", "type": "nominal"}, "y": {"field": "y", "type": "quantitative"}, "text": {"field": "t"}}},
  {"data": {"values": [{}]}, "mark": {"type": "text", "text": "shox", "color": "#A214CC", "fontSize": 16, "fontWeight": "bold", "align": "left", "baseline": "middle", "dx": -56}, "encoding": {"x": {"datum": "Heart"}, "y": {"datum": 1303}}},
  {"data": {"values": [{}]}, "mark": {"type": "text", "text": "/", "color": "black", "fontSize": 16, "fontWeight": "bold", "align": "left", "baseline": "middle", "dx": -18.7}, "encoding": {"x": {"datum": "Heart"}, "y": {"datum": 1303}}},
  {"data": {"values": [{}]}, "mark": {"type": "text", "text": "shox2", "color": "#1C5EFF", "fontSize": 16, "fontWeight": "bold", "align": "left", "baseline": "middle", "dx": -14.3}, "encoding": {"x": {"datum": "Heart"}, "y": {"datum": 1303}}},
  {"data": {"values": [{}]}, "mark": {"type": "text", "text": "knockdown", "color": "black", "fontSize": 16, "fontWeight": "bold", "align": "left", "baseline": "middle", "dx": 36.3}, "encoding": {"x": {"datum": "Heart"}, "y": {"datum": 1303}}},
  {"data": {"values": [{}]}, "mark": {"type": "text", "text": "C", "color": "black", "fontSize": 21, "fontWeight": "bold", "align": "center", "baseline": "middle", "dx": -95}, "encoding": {"x": {"datum": "Fins"}, "y": {"datum": 1303}}},
  {"data": {"values": [{}]}, "mark": {"type": "text", "text": "relative", "color": "black", "fontSize": 13.3, "fontWeight": "bold", "angle": 270, "align": "left", "baseline": "middle", "dx": -3, "dy": -82}, "encoding": {"x": {"datum": "Fins"}, "y": {"datum": 0}}},
  {"data": {"values": [{}]}, "mark": {"type": "text", "text": "shox2", "color": "#1C5EFF", "fontSize": 13.3, "fontWeight": "bold", "fontStyle": "italic", "angle": 270, "align": "left", "baseline": "middle", "dx": 47.3, "dy": -82}, "encoding": {"x": {"datum": "Fins"}, "y": {"datum": 0}}},
  {"data": {"values": [{}]}, "mark": {"type": "text", "text": "expression [counts]", "color": "black", "fontSize": 13.3, "fontWeight": "bold", "angle": 270, "align": "left", "baseline": "middle", "dx": 89.4, "dy": -82}, "encoding": {"x": {"datum": "Fins"}, "y": {"datum": 0}}}
 ]},
 {"width": 243, "height": 164, "data": {"name": "C2"}, "layer": [
  {"mark": {"type": "bar", "stroke": "#6a6a6a", "strokeWidth": 1.6}, "encoding": {
    "x": {"field": "g", "type": "nominal", "scale": {"domain": ["Fins","Heart","Head","Embryo"], "paddingInner": 0.2, "paddingOuter": 0.2}, "axis": {"labels": false, "ticks": false, "title": null}},
    "xOffset": {"field": "c", "type": "nominal", "scale": {"domain": ["Ctrl","MO"], "paddingInner": 0.06}},
    "y": {"aggregate": "mean", "field": "v", "type": "quantitative", "scale": {"domain": [0,1500], "nice": false}, "axis": {"values": [0,500,1000,1500], "format": "d", "labelOverlap": false, "title": null}},
    "color": {"field": "s", "type": "nominal", "scale": {"domain": ["Ctrl. Fins","MO Fins","Ctrl. Heart","MO Heart","Ctrl. Head","MO Head","Ctrl. Embryo","MO Embryo"], "range": ["#FF800A","#FFC38F","#F50000","#FF8585","#666666","#B2B2B2","#177F7B","#8CC5C2"]}, "legend": null}}},
  {"mark": {"type": "errorbar", "extent": "stdev", "color": "#555555", "thickness": 1.5, "ticks": {"size": 10, "thickness": 1.5, "color": "#555555"}}, "encoding": {"x": {"field": "g", "type": "nominal"}, "xOffset": {"field": "c", "type": "nominal"}, "y": {"field": "v", "type": "quantitative", "axis": {"values": [0,500,1000,1500], "format": "d", "labelOverlap": false, "title": null}}}},
  {"mark": {"type": "point", "filled": true, "size": 34, "stroke": "black", "strokeWidth": 1.8, "opacity": 1}, "encoding": {"x": {"field": "g", "type": "nominal"}, "xOffset": {"field": "c", "type": "nominal"}, "y": {"field": "v", "type": "quantitative", "axis": {"values": [0,500,1000,1500], "format": "d", "labelOverlap": false, "title": null}}, "fill": {"field": "c", "type": "nominal", "scale": {"domain": ["Ctrl","MO"], "range": ["black","white"]}, "legend": null}}},
  {"data": {"name": "labels"}, "mark": {"type": "text", "angle": 315, "align": "right", "baseline": "middle", "dx": -2.5, "dy": 6, "fontSize": 12, "fontWeight": "bold", "color": "black"}, "encoding": {"x": {"field": "g", "type": "nominal"}, "xOffset": {"field": "c", "type": "nominal"}, "y": {"datum": 0}, "text": {"field": "s"}}},
  {"data": {"name": "C2s"}, "mark": {"type": "tick", "orient": "horizontal", "size": 36, "thickness": 2, "color": "black", "opacity": 1}, "encoding": {"x": {"field": "g", "type": "nominal"}, "y": {"field": "y", "type": "quantitative"}}},
  {"data": {"name": "C2s"}, "mark": {"type": "text", "baseline": "alphabetic", "dy": 3, "fontSize": 19, "fontWeight": "bold", "color": "black"}, "encoding": {"x": {"field": "g", "type": "nominal"}, "y": {"field": "y", "type": "quantitative"}, "text": {"field": "t"}}},
  {"data": {"values": [{}]}, "mark": {"type": "text", "text": "shox", "color": "#A214CC", "fontSize": 16, "fontWeight": "bold", "align": "left", "baseline": "middle", "dx": -56.3}, "encoding": {"x": {"datum": "Heart"}, "y": {"datum": 1955}}},
  {"data": {"values": [{}]}, "mark": {"type": "text", "text": "/", "color": "black", "fontSize": 16, "fontWeight": "bold", "align": "left", "baseline": "middle", "dx": -19}, "encoding": {"x": {"datum": "Heart"}, "y": {"datum": 1955}}},
  {"data": {"values": [{}]}, "mark": {"type": "text", "text": "shox2", "color": "#1C5EFF", "fontSize": 16, "fontWeight": "bold", "align": "left", "baseline": "middle", "dx": -14.6}, "encoding": {"x": {"datum": "Heart"}, "y": {"datum": 1955}}},
  {"data": {"values": [{}]}, "mark": {"type": "text", "text": "knockdown", "color": "black", "fontSize": 16, "fontWeight": "bold", "align": "left", "baseline": "middle", "dx": 36}, "encoding": {"x": {"datum": "Heart"}, "y": {"datum": 1955}}},
  {"data": {"values": [{}]}, "mark": {"type": "text", "text": "relative", "color": "black", "fontSize": 13.3, "fontWeight": "bold", "angle": 270, "align": "left", "baseline": "middle", "dx": -3, "dy": -82}, "encoding": {"x": {"datum": "Fins"}, "y": {"datum": 0}}},
  {"data": {"values": [{}]}, "mark": {"type": "text", "text": "shox", "color": "#A214CC", "fontSize": 13.3, "fontWeight": "bold", "fontStyle": "italic", "angle": 270, "align": "left", "baseline": "middle", "dx": 47.3, "dy": -82}, "encoding": {"x": {"datum": "Fins"}, "y": {"datum": 0}}},
  {"data": {"values": [{}]}, "mark": {"type": "text", "text": "expression [counts]", "color": "black", "fontSize": 13.3, "fontWeight": "bold", "angle": 270, "align": "left", "baseline": "middle", "dx": 82, "dy": -82}, "encoding": {"x": {"datum": "Fins"}, "y": {"datum": 0}}}
 ]},
 {"width": 1, "height": 96, "data": {"values": []}, "mark": "point", "encoding": {}},
 {"width": 1, "height": 96, "data": {"values": []}, "mark": "point", "encoding": {}},
 {"width": 245, "height": 50, "layer": [
   {"data": {"name": "leg"}, "layer": [
     {"mark": {"type": "point", "filled": true, "size": 16, "stroke": "black", "strokeWidth": 2, "opacity": 1}, "encoding": {
       "x": {"field": "col", "type": "nominal", "scale": {"type": "point", "domain": ["Fins","Heart","Head","Embryo"], "range": [125, 488], "padding": 0}, "axis": null},
       "y": {"field": "row", "type": "nominal", "scale": {"type": "point", "domain": ["Ctrl","MO"], "range": [5, 33], "padding": 0}, "axis": null},
       "fill": {"field": "row", "type": "nominal", "legend": null}}},
     {"mark": {"type": "text", "align": "left", "baseline": "middle", "dx": 8, "dy": 4, "fontSize": 16, "font": "Liberation Sans"}, "encoding": {
       "x": {"field": "col", "type": "nominal"},
       "y": {"field": "row", "type": "nominal"},
       "text": {"field": "t"},
       "color": {"field": "t", "type": "nominal", "scale": {"domain": ["Control Fins","MO Fins","Control Heart","MO Heart","Control Head","MO Head","Control whole Embryo","MO whole Embryo"], "range": ["#FF8000","#FFC28C","#FF0000","#FF8080","#707070","#B0B0B0","#178A82","#85C7C3"]}, "legend": null}}}
   ]},
   {"layer": [
     {"data": {"values": [{}]}, "mark": {"type": "rect", "fill": "white", "fillOpacity": 0, "stroke": "#3E9C8B", "strokeWidth": 1.6}, "encoding": {
       "x": {"datum": 0, "type": "quantitative", "scale": {"domain": [0,100], "range": [-63, 106]}, "axis": null},
       "x2": {"datum": 100},
       "y": {"datum": 0, "type": "quantitative", "scale": {"domain": [0,100], "range": [0, 50]}, "axis": null},
       "y2": {"datum": 100}}},
     {"data": {"name": "fold"}, "mark": {"type": "area", "orient": "vertical", "interpolate": "monotone", "color": "#e6e6e6", "stroke": "#d2d2d2", "strokeWidth": 0.8}, "encoding": {"x": {"field": "fx", "type": "quantitative"}, "y": {"field": "t", "type": "quantitative"}, "y2": {"field": "b"}}},
     {"data": {"name": "trunk"}, "mark": {"type": "area", "orient": "vertical", "interpolate": "monotone", "color": "#ababab"}, "encoding": {"x": {"field": "fx", "type": "quantitative"}, "y": {"field": "t", "type": "quantitative"}, "y2": {"field": "b"}}},
     {"data": {"values": [{"fx": 24, "fy": 60}]}, "mark": {"type": "point", "shape": "circle", "filled": true, "size": 600, "color": "#f2f2f2", "stroke": "#d0d0d0", "strokeWidth": 0.8, "opacity": 1}, "encoding": {"x": {"field": "fx", "type": "quantitative"}, "y": {"field": "fy", "type": "quantitative"}}},
     {"data": {"values": [{"fx": 10, "fy": 48}]}, "mark": {"type": "point", "shape": "circle", "filled": true, "size": 500, "color": "#9a9a9a", "opacity": 1}, "encoding": {"x": {"field": "fx", "type": "quantitative"}, "y": {"field": "fy", "type": "quantitative"}}},
     {"data": {"values": [{"fx": 9, "fy": 50}]}, "mark": {"type": "point", "shape": "circle", "filled": true, "size": 80, "color": "#2b2b2b", "opacity": 1}, "encoding": {"x": {"field": "fx", "type": "quantitative"}, "y": {"field": "fy", "type": "quantitative"}}},
     {"data": {"values": [{"fx": 9, "fy": 50}]}, "mark": {"type": "point", "shape": "circle", "filled": false, "size": 650, "color": "#666666", "strokeWidth": 2, "strokeDash": [4, 3], "opacity": 1}, "encoding": {"x": {"field": "fx", "type": "quantitative"}, "y": {"field": "fy", "type": "quantitative"}}},
     {"data": {"values": [{"fx": 27, "fy": 38}]}, "mark": {"type": "point", "shape": "circle", "filled": false, "size": 280, "color": "#FF8000", "strokeWidth": 2, "strokeDash": [4, 3], "opacity": 1}, "encoding": {"x": {"field": "fx", "type": "quantitative"}, "y": {"field": "fy", "type": "quantitative"}}},
     {"data": {"values": [{"fx": 17, "fy": 70}]}, "mark": {"type": "point", "shape": "circle", "filled": false, "size": 180, "color": "#FF0000", "strokeWidth": 2, "strokeDash": [4, 3], "opacity": 1}, "encoding": {"x": {"field": "fx", "type": "quantitative"}, "y": {"field": "fy", "type": "quantitative"}}}
   ]}
 ], "resolve": {"scale": {"x": "independent", "y": "independent"}}}
]
}
